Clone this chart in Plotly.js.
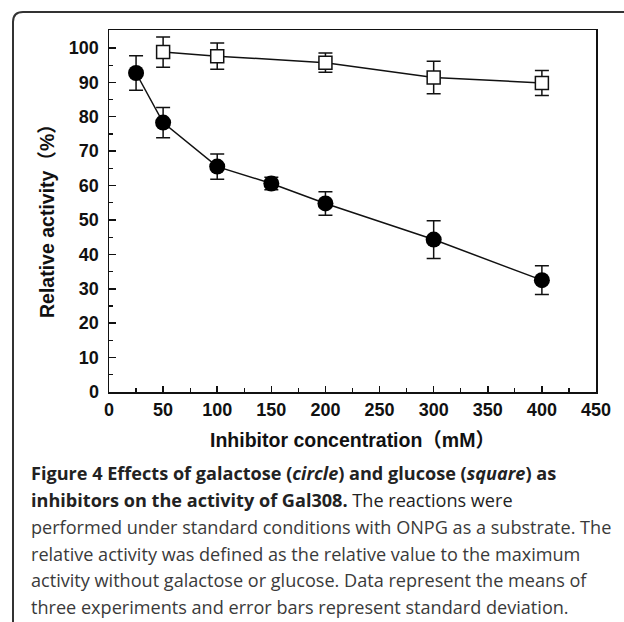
<!DOCTYPE html>
<html>
<head>
<meta charset="utf-8">
<script src="https://cdn.plot.ly/plotly-3.0.1.min.js"></script>
<style>
  html, body { margin: 0; padding: 0; background: #fff; }
  #chart { width: 624px; height: 622px; }
</style>
</head>
<body>
<div id="chart"></div>
<script>
// Galactose (circle)
const galX = [25, 50, 100, 150, 200, 300, 400];
const galY = [92.7, 78.3, 65.5, 60.6, 54.8, 44.3, 32.5];
const galErr = [5.0, 4.4, 3.7, 1.8, 3.4, 5.5, 4.2];
// Glucose (square)
const gluX = [50, 100, 200, 300, 400];
const gluY = [98.8, 97.6, 95.7, 91.4, 89.8];
const gluErr = [4.4, 3.8, 2.8, 4.7, 3.6];

const xTitle = 'Inhibitor concentration（mM）';
const yTitle = 'Relative activity（%）';
const captionLines = [
  '<b>Figure 4 Effects of galactose (<i>circle</i>) and glucose (<i>square</i>) as</b>',
  '<b>inhibitors on the activity of Gal308.</b> The reactions were',
  'performed under standard conditions with ONPG as a substrate. The',
  'relative activity was defined as the relative value to the maximum',
  'activity without galactose or glucose. Data represent the means of',
  'three experiments and error bars represent standard deviation.'
];

const W = 624, H = 622;
const M = {l: 109, r: 28, t: 30, b: 230};
const PW = W - M.l - M.r, PH = H - M.t - M.b;
const px2x = x => (x - M.l) / PW;
const px2y = y => (H - M.b - y) / PH;

const traces = [
  {
    x: gluX, y: gluY, type: 'scatter', mode: 'lines+markers',
    line: {color: '#111', width: 1.5},
    marker: {symbol: 'square', size: 13, color: '#fff', line: {color: '#111', width: 1.5}},
    error_y: {type: 'data', array: gluErr, visible: true, color: '#111', thickness: 1.5, width: 7},
    showlegend: false
  },
  {
    x: galX, y: galY, type: 'scatter', mode: 'lines+markers',
    line: {color: '#111', width: 1.5},
    marker: {symbol: 'circle', size: 16, color: '#000', line: {color: '#000', width: 0}},
    error_y: {type: 'data', array: galErr, visible: true, color: '#111', thickness: 1.5, width: 7},
    showlegend: false
  }
];

const tickFont = {family: 'Liberation Sans, Arial, sans-serif', size: 18, color: '#111', weight: 'bold'};
const titleFont = {family: 'Liberation Sans, Arial, Noto Sans CJK SC, sans-serif', size: 19.5, color: '#111', weight: 'bold'};

const annotations = captionLines.map((t, i) => ({
  text: t, xref: 'paper', yref: 'paper', showarrow: false,
  x: px2x(29), y: px2y(473.5 + i * 26.7), xanchor: 'left', yanchor: 'middle', align: 'left',
  font: {family: 'Open Sans, Noto Sans, sans-serif', size: 18.1, color: i < 2 ? '#222' : '#3a3a3a'}
}));
annotations.push({
  text: yTitle, xref: 'paper', yref: 'paper', showarrow: false, textangle: -90,
  x: px2x(47), y: px2y(216), xanchor: 'center', yanchor: 'middle',
  font: titleFont
});

const r = 10;
const fx = px2x(13), fy = px2y(12);
const framePath = `M ${fx},${px2y(640)} L ${fx},${fy - r / PH} Q ${fx},${fy} ${fx + r / PW},${fy} L ${px2x(640)},${fy}`;

const layout = {
  width: W, height: H,
  margin: M,
  paper_bgcolor: '#fff', plot_bgcolor: '#fff',
  showlegend: false,
  xaxis: {
    range: [0, 450], dtick: 50, tick0: 0,
    ticks: 'inside', ticklen: 6, tickwidth: 1.5, tickcolor: '#111',
    minor: {dtick: 25, ticks: 'inside', ticklen: 4, tickwidth: 1.2, tickcolor: '#111'},
    showline: true, linecolor: '#111', linewidth: 1.5, mirror: true,
    showgrid: false, zeroline: false,
    tickfont: tickFont, ticklabelstandoff: 1,
    title: {text: xTitle, font: titleFont, standoff: 14}
  },
  yaxis: {
    range: [0, 105.2], dtick: 10, tick0: 0,
    ticks: 'inside', ticklen: 7, tickwidth: 1.5, tickcolor: '#111',
    minor: {dtick: 5, ticks: 'inside', ticklen: 4, tickwidth: 1.2, tickcolor: '#111'},
    showline: true, linecolor: '#111', linewidth: 1.5, mirror: true,
    showgrid: false, zeroline: false,
    tickfont: tickFont, ticklabelstandoff: 5
  },
  shapes: [{
    type: 'path', xref: 'paper', yref: 'paper', path: framePath,
    line: {color: '#333', width: 2}, layer: 'below'
  }],
  annotations: annotations
};

Plotly.newPlot('chart', traces, layout, {displayModeBar: false, staticPlot: true});
</script>
</body>
</html>
